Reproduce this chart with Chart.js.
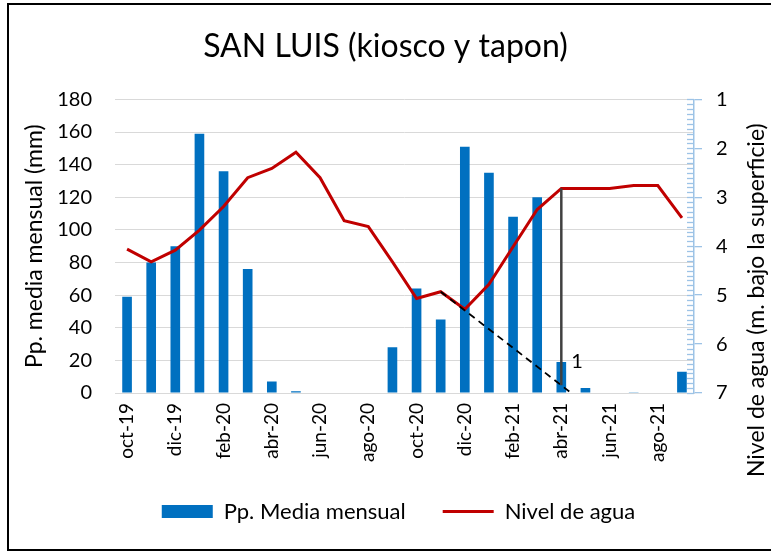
<!DOCTYPE html>
<html>
<head>
<meta charset="utf-8">
<script src="https://cdn.jsdelivr.net/npm/chart.js@4.4.1/dist/chart.umd.min.js"></script>
<style>
  html, body { margin: 0; padding: 0; background: #fff; }
  #wrap { position: relative; width: 771px; height: 552px; overflow: hidden; }
  #c { position: absolute; left: 0; top: 0; }
  #frame { position: absolute; left: 7px; top: 3px; width: 820px; height: 548px; box-sizing: border-box; border: 2px solid #000; pointer-events: none; }
</style>
</head>
<body>
<div id="wrap">
  <canvas id="c" width="771" height="552"></canvas>
  <div id="frame"></div>
</div>
<script>
// ---- data ----
const months = ['oct-19','nov-19','dic-19','ene-20','feb-20','mar-20','abr-20','may-20','jun-20','jul-20','ago-20','sep-20',
                'oct-20','nov-20','dic-20','ene-21','feb-21','mar-21','abr-21','may-21','jun-21','jul-21','ago-21','sep-21'];
const precip = [59, 80, 90, 159, 136, 76, 7, 1, 0.3, 0, 0, 28,
                64, 45, 151, 135, 108, 120, 19, 3, 0, 0.2, 0, 13];
const nivel = [4.06, 4.32, 4.08, 3.67, 3.19, 2.60, 2.41, 2.08, 2.60, 3.48, 3.60, 4.32,
               5.07, 4.93, 5.29, 4.78, 4.01, 3.25, 2.82, 2.82, 2.82, 2.76, 2.76, 3.42];
const trendX = [13, 18.33];
const trendY = [4.93, 6.97];
const markX = [18, 18];
const markY = [2.82, 6.84];
const markIndex = 18;
const markText = '1';
const precipTicks = [0, 180, 20];
const nivelTicks = [1, 7, 1];
const titleText = 'SAN LUIS (kiosco y tapon)';
const leftTitle = 'Pp. media mensual (mm)';
const rightTitle = 'Nivel de agua (m. bajo la superficie)';
const seriesNames = ['Pp. Media mensual', 'Nivel de agua'];

// ---- style ----
const BLUE = '#0070C0';
const RED = '#C00000';
const AXIS_BLUE = '#9DC3E6';
const GRID = '#D9D9D9';
const FONT = 'Lato';
Chart.defaults.font.family = FONT;
Chart.defaults.color = '#000';

const overlay = {
  id: 'overlay',
  afterLayout(chart) {
    if (chart.legend) { chart.legend.left += 13; chart.legend.right += 13; }
  },
  afterDatasetsDraw(chart) {
    const ctx = chart.ctx;
    const y2 = chart.scales.y2;
    const ax = y2.left;
    ctx.save();
    ctx.strokeStyle = AXIS_BLUE;
    ctx.lineWidth = 1.3;
    const steps = Math.round((y2.max - y2.min) * 10);
    for (let k = 0; k <= steps; k++) {
      const v = y2.min + k / 10;
      const py = Math.round(y2.getPixelForValue(v)) + 0.5;
      ctx.beginPath();
      ctx.moveTo(ax - 7, py);
      ctx.lineTo(ax, py);
      ctx.stroke();
    }
    const bar = chart.getDatasetMeta(0).data[markIndex];
    ctx.fillStyle = '#000';
    ctx.font = '20px ' + FONT;
    ctx.textAlign = 'left';
    ctx.textBaseline = 'middle';
    ctx.fillText(markText, bar.x + 10, bar.y);
    ctx.restore();
  },
  afterDraw(chart) {
    const ctx = chart.ctx;
    const y2 = chart.scales.y2;
    const ca = chart.chartArea;
    ctx.save();
    ctx.fillStyle = '#000';
    ctx.font = '23px ' + FONT;
    ctx.textAlign = 'center';
    ctx.textBaseline = 'middle';
    ctx.translate(y2.right - 14, (ca.top + ca.bottom) / 2 + 54);
    ctx.rotate(-Math.PI / 2);
    ctx.fillText(rightTitle, 0, 0);
    ctx.restore();
  }
};

new Chart(document.getElementById('c'), {
  data: {
    labels: months,
    datasets: [
      { type: 'bar', label: seriesNames[0], data: precip, backgroundColor: BLUE, borderWidth: 0,
        grouped: false, barPercentage: 0.4, categoryPercentage: 1, xAxisID: 'x', yAxisID: 'y', order: 3 },
      { type: 'line', label: seriesNames[1], data: nivel, borderColor: RED, borderWidth: 3,
        pointRadius: 0, pointBorderWidth: 3, tension: 0, xAxisID: 'x', yAxisID: 'y2', order: 2 },
      { type: 'line', label: 'tendencia', data: trendX.map((x, i) => ({ x, y: trendY[i] })),
        borderColor: '#000', borderWidth: 1.8, borderDash: [7, 5], pointRadius: 0,
        xAxisID: 'xl', yAxisID: 'y2', order: 1 },
      { type: 'line', label: 'marca', data: markX.map((x, i) => ({ x, y: markY[i] })),
        borderColor: '#404040', borderWidth: 2.5, pointRadius: 0,
        xAxisID: 'xl', yAxisID: 'y2', order: 0 }
    ]
  },
  options: {
    responsive: false,
    animation: false,
    layout: { padding: { left: 0, right: 0, top: 0, bottom: 19.5 } },
    plugins: {
      tooltip: { enabled: false },
      title: {
        display: true, text: titleText, color: '#000',
        font: { family: FONT, size: 32, weight: 'normal' },
        padding: { top: 27, bottom: 34 }
      },
      legend: {
        position: 'bottom',
        labels: {
          color: '#000',
          font: { family: FONT, size: 22 },
          usePointStyle: true,
          pointStyleWidth: 51,
          boxHeight: 13,
          padding: 37,
          sort: (a, b) => a.datasetIndex - b.datasetIndex,
          generateLabels(chart) {
            const items = Chart.defaults.plugins.legend.labels.generateLabels(chart);
            return items.filter(it => it.datasetIndex < 2).map(it => {
              if (it.datasetIndex === 0) { it.pointStyle = 'rect'; it.lineWidth = 0; it.fillStyle = BLUE; }
              else { it.pointStyle = 'line'; it.lineWidth = 3; it.strokeStyle = RED; }
              return it;
            });
          }
        }
      }
    },
    scales: {
      x: {
        type: 'category', position: 'bottom',
        grid: { display: false, drawTicks: false },
        border: { display: true, color: GRID, width: 1 },
        ticks: {
          autoSkip: false, minRotation: 90, maxRotation: 90, padding: 10,
          font: { family: FONT, size: 19 }, color: '#000',
          callback(v, i) { return i % 2 === 0 ? months[i] : ''; }
        },
        afterFit(s) { s.height = 70.5; }
      },
      xl: { type: 'linear', display: false, min: -0.5, max: months.length - 0.5 },
      y: {
        position: 'left', min: precipTicks[0], max: precipTicks[1],
        ticks: { stepSize: precipTicks[2], padding: 23, font: { family: FONT, size: 20 }, color: '#000' },
        grid: { color: GRID, lineWidth: 1, drawTicks: false },
        border: { display: false },
        title: { display: true, text: leftTitle, color: '#000', font: { family: FONT, size: 23 }, padding: { top: 21, bottom: 0 } },
        afterFit(s) { s.width = 115; }
      },
      y2: {
        position: 'right', reverse: true, min: nivelTicks[0], max: nivelTicks[1],
        ticks: { stepSize: nivelTicks[2], padding: 14, font: { family: FONT, size: 20 }, color: '#000' },
        grid: { drawOnChartArea: false, color: AXIS_BLUE, tickColor: AXIS_BLUE, tickLength: 8, lineWidth: 1.3 },
        border: { display: true, color: AXIS_BLUE, width: 1.5 },
        afterFit(s) { s.width = 77; }
      }
    }
  },
  plugins: [overlay]
});
</script>
</body>
</html>
